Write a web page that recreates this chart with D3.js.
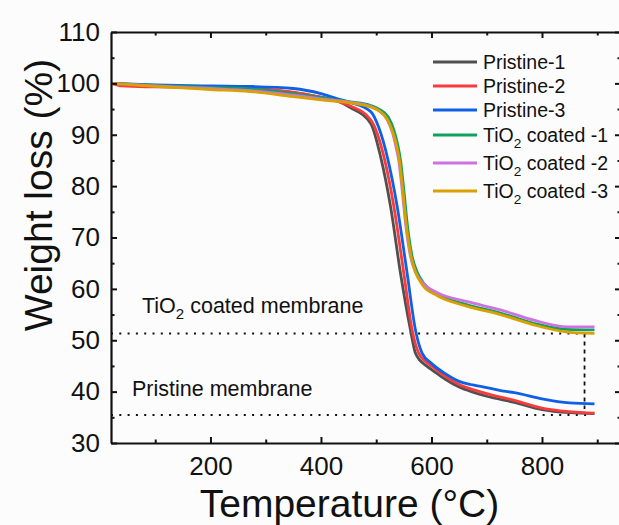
<!DOCTYPE html>
<html>
<head>
<meta charset="utf-8">
<script src="https://cdn.jsdelivr.net/npm/d3@7"></script>
<style>
  body { margin: 0; background: #fcfcfc; }
  text { font-family: "Liberation Sans", Arial, sans-serif; fill: #111; }
</style>
</head>
<body>
<div id="chart"></div>
<script>
// TGA curves, [temperature (°C), weight (%)]
let pristine1 = [[21,100],[100,99.5],[200,99.2],[272,98.9],[350,98.2],[400,97.3],[430,96.6],[453,95.3],[490,92.2],[508,85.7],[526,76.0],[544,63.0],[562,52.0],[571,47.5],[592,44.9],[600,44.3],[625,42.4],[650,40.9],[675,39.9],[700,39.1],[750,37.9],[800,36.5],[850,35.9],[895,35.7]];
let pristine2 = [[21,100],[40,99.5],[100,99.3],[200,99.1],[272,99.0],[350,98.3],[400,97.3],[430,96.5],[453,95.6],[490,92.9],[514,85.7],[532,76.0],[550,63.0],[565,52.0],[577,47.5],[600,45.0],[625,43.0],[650,41.4],[675,40.4],[700,39.6],[750,38.3],[800,36.8],[850,36.1],[895,35.8]];
let pristine3 = [[21,100],[100,99.7],[200,99.5],[272,99.4],[350,99.0],[400,98.0],[430,97.0],[453,96.3],[490,94.5],[505,91.3],[520,85.7],[538,76.0],[556,63.0],[571,52.0],[583,47.5],[600,45.5],[625,43.5],[650,42.0],[675,41.3],[700,40.8],[725,40.2],[750,39.8],[800,38.6],[850,37.8],[895,37.6]];
let coated1 = [[21,100],[100,99.6],[200,99.2],[272,98.9],[350,98.0],[400,97.2],[453,96.4],[490,95.7],[505,95.0],[522,93.4],[532,90.9],[539,88.0],[544,85.0],[550,79.2],[556,72.8],[565,66.3],[574,63.3],[586,61.1],[610,59.0],[665,56.9],[725,55.3],[785,53.3],[846,52.1],[895,52.0]];
let coated2 = [[21,100],[100,99.5],[200,99.0],[272,98.6],[350,97.7],[400,97.0],[453,96.3],[490,95.5],[503,94.8],[520,92.9],[530,90.2],[536,87.5],[541,84.8],[547,79.2],[553,72.8],[562,66.3],[571,63.3],[584,61.2],[610,59.3],[665,57.5],[725,55.9],[785,53.9],[846,52.6],[895,52.6]];
let coated3 = [[21,100],[100,99.4],[200,98.8],[272,98.4],[350,97.4],[400,96.8],[453,96.2],[490,95.4],[503,94.8],[520,93.0],[530,90.5],[537,87.8],[542,85.0],[548,79.2],[554,72.8],[563,66.3],[572,63.0],[584,60.7],[610,58.7],[665,56.6],[725,55.0],[785,53.0],[846,51.6],[895,51.35]];

let seriesNames = ["Pristine-1", "Pristine-2", "Pristine-3", "TiO2 coated -1", "TiO2 coated -2", "TiO2 coated -3"];
let seriesData = [pristine1, pristine2, pristine3, coated1, coated2, coated3];

let xTicks = [200, 400, 600, 800];
let xMinor = [100, 300, 500, 700, 900];
let yTicks = [30, 40, 50, 60, 70, 80, 90, 100, 110];
let yMinor = [35, 45, 55, 65, 75, 85, 95, 105];

// residue guide lines
let residueLevels = [51.3, 35.45];
let residueLabels = ["TiO2 coated membrane", "Pristine membrane"];
let guideEnd = 890;
let gapAt = 877;

let palette = ["#505050", "#fb3b3b", "#0f60e6", "#0fa25e", "#cc72e2", "#d9a000"];
let font = {tick: 26, title: 39, legend: 19.5, note: 21.5};

let width = 619, height = 525;
let margin = {left: 111, right: -2, top: 32, bottom: 82};

let svg = d3.select("#chart").append("svg")
    .attr("width", width)
    .attr("height", height);

let x = d3.scaleLinear().domain([20, 943]).range([margin.left, width - margin.right]);
let y = d3.scaleLinear().domain([30, 110]).range([height - margin.bottom, margin.top]);

// text with "2" as subscript
function subText(sel, label, size, drop){
    let parts = label.split("O2");
    if(parts.length == 1){ sel.text(label); return; }
    sel.append("tspan").text(parts[0] + "O");
    sel.append("tspan").text("2").attr("font-size", size*0.7).attr("dy", drop);
    sel.append("tspan").text(parts[1]).attr("dy", -drop);
}

// guides
let guideGroup = svg.append("g");
residueLevels.forEach(function(v){
    guideGroup.append("line")
        .attr("x1", x.range()[0]).attr("x2", x(guideEnd))
        .attr("y1", y(v)).attr("y2", y(v))
        .attr("stroke", "#111").attr("stroke-width", 2)
        .style("stroke-dasharray", "2,6.3");
});
guideGroup.append("line")
    .attr("x1", x(gapAt)).attr("x2", x(gapAt))
    .attr("y1", y(residueLevels[0])).attr("y2", y(36.6))
    .attr("stroke", "#111").attr("stroke-width", 1.8)
    .style("stroke-dasharray", "4,4");

let noteX = [142, 132];
let noteY = [313, 396];
residueLabels.forEach(function(d, i){
    let t = svg.append("text")
        .attr("x", noteX[i]).attr("y", noteY[i])
        .attr("font-size", font.note);
    subText(t, d, font.note, 6);
});

// curves
let line = d3.line()
    .x(function(d){ return x(d[0]); })
    .y(function(d){ return y(d[1]); })
    .curve(d3.curveMonotoneX);

let curveGroup = svg.append("g");
seriesData.forEach(function(d, i){
    curveGroup.append("path")
        .attr("d", line(d))
        .attr("fill", "none")
        .attr("stroke", palette[i])
        .attr("stroke-width", 2.8)
        .attr("stroke-linejoin", "round");
});

// frame, ticks point inward
let x0 = x.range()[0], x1 = x.range()[1], y0 = y.range()[0], y1 = y.range()[1];

function styleAxis(g){
    g.select(".domain").attr("stroke", "#111").attr("stroke-width", 2.2);
    g.selectAll(".tick line").attr("stroke", "#111").attr("stroke-width", 2);
    g.selectAll(".tick text").attr("font-size", font.tick).attr("fill", "#111")
        .attr("font-family", "Liberation Sans, Arial, sans-serif");
}

svg.append("g").attr("transform", "translate(0," + y0 + ")")
    .call(d3.axisBottom(x).tickValues(xTicks).tickSize(-6).tickSizeOuter(0).tickPadding(14))
    .call(styleAxis);
svg.append("g").attr("transform", "translate(0," + y0 + ")")
    .call(d3.axisBottom(x).tickValues(xMinor).tickSize(-3.5).tickFormat(""))
    .call(styleAxis).select(".domain").remove();
svg.append("g").attr("transform", "translate(0," + y1 + ")")
    .call(d3.axisTop(x).tickValues(xTicks).tickSize(-6).tickSizeOuter(0).tickFormat(""))
    .call(styleAxis);
svg.append("g").attr("transform", "translate(0," + y1 + ")")
    .call(d3.axisTop(x).tickValues(xMinor).tickSize(-3.5).tickFormat(""))
    .call(styleAxis).select(".domain").remove();

svg.append("g").attr("transform", "translate(" + x0 + ",0)")
    .call(d3.axisLeft(y).tickValues(yTicks).tickSize(-6).tickSizeOuter(0).tickPadding(11))
    .call(styleAxis);
svg.append("g").attr("transform", "translate(" + x0 + ",0)")
    .call(d3.axisLeft(y).tickValues(yMinor).tickSize(-3.5).tickFormat(""))
    .call(styleAxis).select(".domain").remove();
svg.append("g").attr("transform", "translate(" + x1 + ",0)")
    .call(d3.axisRight(y).tickValues(yTicks).tickSize(-6).tickSizeOuter(0).tickFormat(""))
    .call(styleAxis);
svg.append("g").attr("transform", "translate(" + x1 + ",0)")
    .call(d3.axisRight(y).tickValues(yMinor).tickSize(-3.5).tickFormat(""))
    .call(styleAxis).select(".domain").remove();

// titles
svg.append("text")
    .attr("x", 349.5).attr("y", 517)
    .attr("text-anchor", "middle")
    .attr("font-size", font.title)
    .text("Temperature (\u00B0C)");
svg.append("text")
    .attr("transform", "translate(52,195) rotate(-90)")
    .attr("text-anchor", "middle")
    .attr("font-size", font.title)
    .text("Weight loss (%)");

// legend
let legend = svg.append("g").attr("transform", "translate(433,0)");
let rowY = 62;
seriesNames.forEach(function(d, i){
    if(i > 0){
        let hasSub = d.indexOf("O2") > -1, prevSub = seriesNames[i-1].indexOf("O2") > -1;
        rowY += hasSub ? (prevSub ? 28 : 25) : 24;
    }
    let row = legend.append("g").attr("transform", "translate(0," + rowY + ")");
    row.append("line")
        .attr("x1", 0).attr("x2", 44)
        .attr("stroke", palette[i]).attr("stroke-width", 3);
    let t = row.append("text")
        .attr("x", 50).attr("dy", "0.36em")
        .attr("font-size", font.legend);
    subText(t, d, font.legend, 5.5);
});
</script>
</body>
</html>
